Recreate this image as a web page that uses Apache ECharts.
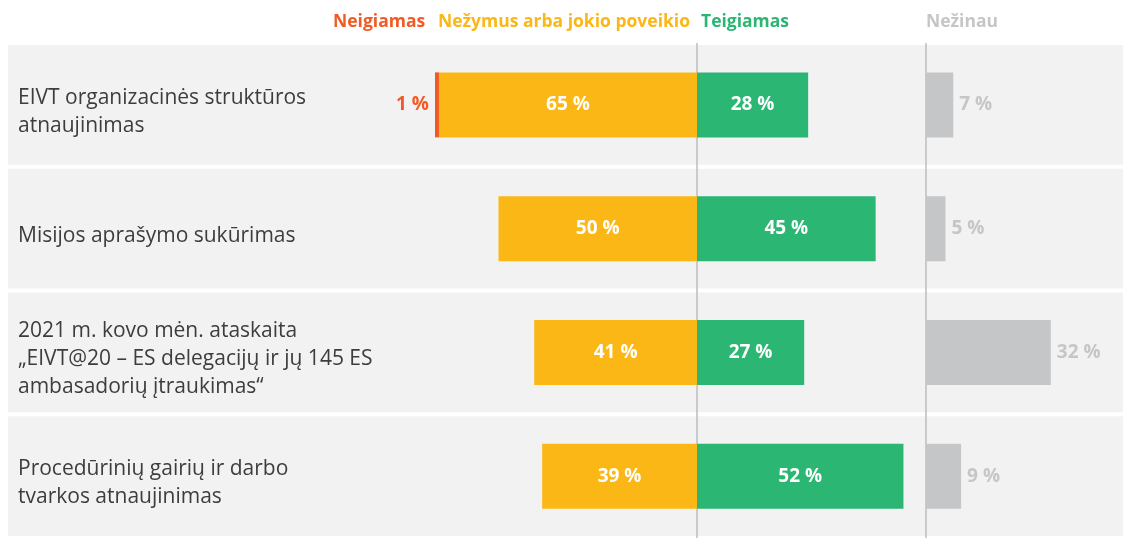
<!DOCTYPE html>
<html>
<head>
<meta charset="utf-8">
<script src="https://cdn.jsdelivr.net/npm/echarts@6/dist/echarts.min.js"></script>
<style>html,body{margin:0;padding:0;background:#fff}#c{width:1123px;height:538px}</style>
</head>
<body>
<div id="c"></div>
<script>
const categories = [
  'EIVT organizacinės struktūros\natnaujinimas',
  'Misijos aprašymo sukūrimas',
  '2021 m. kovo mėn. ataskaita\n„EIVT@20 – ES delegacijų ir jų 145 ES\nambasadorių įtraukimas“',
  'Procedūrinių gairių ir darbo\ntvarkos atnaujinimas'
];
const negative = [1, 0, 0, 0];
const neutral = [65, 50, 41, 39];
const positive = [28, 45, 27, 52];
const unknown = [7, 5, 32, 9];
const legendNames = ['Neigiamas', 'Nežymus arba jokio poveikio', 'Teigiamas', 'Nežinau'];

const C_NEG = '#f15a24', C_NEU = '#fbb716', C_POS = '#2bb673', C_UNK = '#c5c6c8';
const FONT = 'Open Sans';
const TOP = 43, H = 508;
const center = 697, pxPer = 3.97;
const chart = echarts.init(document.getElementById('c'));
const LEG_FONT = 'bold 17.5px "' + FONT + '"';

const valLabel = v => v + ' %';
chart.setOption({
  animation: false,
  textStyle: { fontFamily: FONT },
  grid: [
    { left: center - 70 * pxPer, width: 130 * pxPer, top: TOP, height: H },
    { left: 926, width: 50 * 3.9, top: TOP, height: H },
    { left: 8, right: 0, top: TOP, height: H }
  ],
  xAxis: [
    { gridIndex: 0, type: 'value', min: -70, max: 60, show: false },
    { gridIndex: 1, type: 'value', min: 0, max: 50, show: false },
    { gridIndex: 2, type: 'value', min: 0, max: 1, show: false }
  ],
  yAxis: [
    { gridIndex: 0, type: 'category', data: categories, inverse: true, show: false },
    { gridIndex: 1, type: 'category', data: categories, inverse: true, show: false },
    { gridIndex: 2, type: 'category', data: categories, inverse: true, show: false }
  ],
  graphic: [
    { type: 'text', left: 333, top: 13, style: { text: legendNames[0], fill: C_NEG, font: LEG_FONT } },
    { type: 'text', right: 1123 - 690, top: 13, style: { text: legendNames[1], fill: C_NEU, font: LEG_FONT } },
    { type: 'text', left: 701, top: 13, style: { text: legendNames[2], fill: C_POS, font: LEG_FONT } },
    { type: 'text', left: 926, top: 13, style: { text: legendNames[3], fill: C_UNK, font: LEG_FONT } }
  ],
  series: [
    {
      type: 'bar', xAxisIndex: 2, yAxisIndex: 2, z: 0, silent: true,
      data: categories.map(() => 1),
      barCategoryGap: '3.2%',
      itemStyle: { color: '#f2f2f2' },
      label: {
        show: true, position: 'insideLeft', distance: 10, offset: [0, 7],
        formatter: p => p.name, color: '#3d3d3d', fontSize: 21, lineHeight: 28, fontFamily: FONT
      }
    },
    {
      name: legendNames[1], type: 'bar', xAxisIndex: 0, yAxisIndex: 0, stack: 'a', barWidth: 65, z: 3,
      data: neutral.map(v => -v),
      itemStyle: { color: C_NEU },
      label: { show: true, position: 'inside', color: '#fff', fontWeight: 'bold', fontSize: 19, formatter: p => valLabel(-p.value) },
      markLine: {
        silent: true, symbol: 'none', z: 1,
        lineStyle: { color: '#bdbdbd', width: 1.5, type: 'solid' },
        label: { show: false },
        data: [{ xAxis: 0 }]
      }
    },
    {
      name: legendNames[0], type: 'bar', xAxisIndex: 0, yAxisIndex: 0, stack: 'a', barWidth: 65, z: 3,
      data: negative.map(v => -v),
      itemStyle: { color: C_NEG },
      label: { show: true, position: 'left', distance: 6, color: C_NEG, fontWeight: 'bold', fontSize: 19,
        formatter: p => p.value ? valLabel(-p.value) : '' }
    },
    {
      name: legendNames[2], type: 'bar', xAxisIndex: 0, yAxisIndex: 0, stack: 'a', barWidth: 65, z: 3,
      data: positive,
      itemStyle: { color: C_POS },
      label: { show: true, position: 'inside', color: '#fff', fontWeight: 'bold', fontSize: 19, formatter: p => valLabel(p.value) }
    },
    {
      name: legendNames[3], type: 'bar', xAxisIndex: 1, yAxisIndex: 1, barWidth: 65, z: 3,
      data: unknown,
      itemStyle: { color: C_UNK },
      label: { show: true, position: 'right', distance: 6, color: C_UNK, fontWeight: 'bold', fontSize: 19, formatter: p => valLabel(p.value) },
      markLine: {
        silent: true, symbol: 'none', z: 1,
        lineStyle: { color: '#bdbdbd', width: 1.5, type: 'solid' },
        label: { show: false },
        data: [{ xAxis: 0 }]
      }
    }
  ]
});
</script>
</body>
</html>
